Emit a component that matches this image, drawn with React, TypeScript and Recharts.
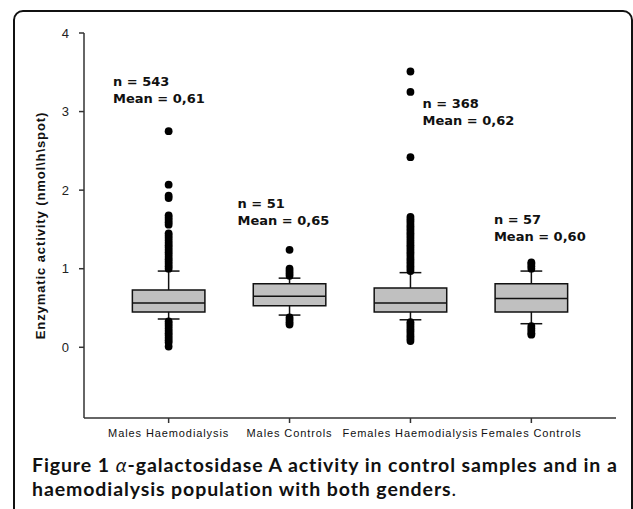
import { ComposedChart, XAxis, YAxis, Scatter, ReferenceArea, ReferenceLine, Label } from 'recharts';

const categories = ['Males Haemodialysis', 'Males Controls', 'Females Haemodialysis', 'Females Controls'];
const yTicks = [0, 1, 2, 3, 4];

// box statistics per group
const q1 = [0.45, 0.53, 0.45, 0.45];
const medians = [0.565, 0.65, 0.565, 0.62];
const q3 = [0.73, 0.81, 0.755, 0.81];
const whiskerLow = [0.36, 0.41, 0.35, 0.3];
const whiskerHigh = [0.97, 0.88, 0.95, 0.97];

const sampleSizes = [543, 51, 368, 57];
const means = ['0,61', '0,65', '0,62', '0,60'];

// outliers
const malesHdOutliers = [
  1.0, 1.03, 1.06, 1.09, 1.12, 1.15, 1.18, 1.21, 1.24, 1.27, 1.3, 1.33, 1.36, 1.39, 1.42, 1.45,
  1.56, 1.59, 1.62, 1.65, 1.68, 1.9, 1.93, 2.07, 2.75,
  0.33, 0.3, 0.27, 0.24, 0.21, 0.18, 0.15, 0.12, 0.09, 0.06, 0.01,
];
const malesCtrlOutliers = [0.91, 0.94, 0.97, 1.0, 1.24, 0.38, 0.35, 0.32, 0.29];
const femalesHdOutliers = [
  0.97, 1.0, 1.03, 1.06, 1.09, 1.12, 1.15, 1.18, 1.21, 1.24, 1.27, 1.3, 1.33, 1.36, 1.39, 1.42,
  1.45, 1.48, 1.51, 1.54, 1.57, 1.6, 1.63, 1.66, 2.42, 3.25, 3.51,
  0.32, 0.29, 0.26, 0.23, 0.2, 0.17, 0.14, 0.11, 0.08,
];
const femalesCtrlOutliers = [1.0, 1.03, 1.06, 1.08, 0.27, 0.24, 0.21, 0.18, 0.16];

const outlierGroups = [malesHdOutliers, malesCtrlOutliers, femalesHdOutliers, femalesCtrlOutliers];

// where the "n = / Mean =" notes sit (data units)
const noteX = [0.54, 1.57, 3.1, 3.69];
const noteY = [3.33, 1.77, 3.05, 1.57];

const BOX_HALF = 0.3;
const CAP_HALF = 0.09;

const outlierData = outlierGroups.flatMap((g, i) => g.map((y) => ({ x: i + 1, y })));
const noteData = categories.map((c, i) => ({ x: noteX[i], y: noteY[i], n: sampleSizes[i], mean: means[i] }));

const Dot = (props: any) => <circle cx={props.cx} cy={props.cy} r={3.9} fill="#000" />;

const Note = (props: any) => {
  const { cx, cy, payload } = props;
  return (
    <text x={cx} y={cy} fontFamily="DejaVu Sans" fontWeight="bold" fontSize={13} fill="#111">
      <tspan x={cx} y={cy}>n = {payload.n}</tspan>
      <tspan x={cx} y={cy + 17}>Mean = {payload.mean}</tspan>
    </text>
  );
};

const captionStyle: any = {
  position: 'absolute',
  left: 32,
  height: 23.4,
  fontFamily: 'Lato',
  fontSize: 19.5,
  lineHeight: '23.4px',
  letterSpacing: 0.9,
  color: '#111',
  whiteSpace: 'nowrap',
};

export default function App() {
  return (
    <div style={{ position: 'absolute', left: 0, top: 0, width: 633, height: 509, overflow: 'hidden', background: '#fff' }}>
      <div
        style={{
          position: 'absolute',
          left: 13,
          top: 10,
          width: 620,
          height: 600,
          boxSizing: 'border-box',
          border: '2px solid #111',
          borderRadius: 10,
        }}
      />
      <div style={{ position: 'absolute', left: 0, top: 0 }}>
        <ComposedChart width={633} height={450} margin={{ top: 33, right: 17, bottom: 2, left: 24 }}>
          <XAxis
            type="number"
            dataKey="x"
            domain={[0.3, 4.7]}
            ticks={[1, 2, 3, 4]}
            tickFormatter={(v) => categories[v - 1]}
            height={30}
            tickSize={5}
            tickMargin={6}
            stroke="#333"
            strokeWidth={1.5}
            tick={{ fontSize: 11, fill: '#111', fontFamily: 'Liberation Sans', letterSpacing: 0.9 }}
            allowDataOverflow
          />
          <YAxis
            type="number"
            dataKey="y"
            domain={[-0.9, 4]}
            ticks={yTicks}
            width={60}
            tickSize={5}
            tickMargin={10}
            stroke="#333"
            strokeWidth={1.5}
            tick={{ fontSize: 13, fill: '#222', fontFamily: 'Liberation Sans' }}
            allowDataOverflow
          >
            <Label
              value="Enzymatic activity (nmol\h\spot)"
              angle={-90}
              position="insideLeft"
              offset={16}
              style={{ textAnchor: 'middle', fontSize: 13, fontWeight: 'bold', fill: '#111', fontFamily: 'Liberation Sans', letterSpacing: 0.9 }}
            />
          </YAxis>

          {categories.map((c, i) => (
            <ReferenceArea
              key={'box' + i}
              x1={i + 1 - BOX_HALF}
              x2={i + 1 + BOX_HALF}
              y1={q1[i]}
              y2={q3[i]}
              fill="#c0c0c0"
              fillOpacity={1}
              stroke="#111"
              strokeWidth={1.5}
            />
          ))}
          {categories.map((c, i) => (
            <ReferenceLine
              key={'med' + i}
              segment={[{ x: i + 1 - BOX_HALF, y: medians[i] }, { x: i + 1 + BOX_HALF, y: medians[i] }]}
              stroke="#111"
              strokeWidth={1.5}
            />
          ))}
          {categories.map((c, i) => (
            <ReferenceLine
              key={'wh' + i}
              segment={[{ x: i + 1, y: q3[i] }, { x: i + 1, y: whiskerHigh[i] }]}
              stroke="#111"
              strokeWidth={1.5}
            />
          ))}
          {categories.map((c, i) => (
            <ReferenceLine
              key={'wl' + i}
              segment={[{ x: i + 1, y: q1[i] }, { x: i + 1, y: whiskerLow[i] }]}
              stroke="#111"
              strokeWidth={1.5}
            />
          ))}
          {categories.map((c, i) => (
            <ReferenceLine
              key={'ch' + i}
              segment={[{ x: i + 1 - CAP_HALF, y: whiskerHigh[i] }, { x: i + 1 + CAP_HALF, y: whiskerHigh[i] }]}
              stroke="#111"
              strokeWidth={1.5}
            />
          ))}
          {categories.map((c, i) => (
            <ReferenceLine
              key={'cl' + i}
              segment={[{ x: i + 1 - CAP_HALF, y: whiskerLow[i] }, { x: i + 1 + CAP_HALF, y: whiskerLow[i] }]}
              stroke="#111"
              strokeWidth={1.5}
            />
          ))}

          <Scatter data={outlierData} dataKey="y" shape={<Dot />} isAnimationActive={false} />
          <Scatter data={noteData} dataKey="y" shape={<Note />} isAnimationActive={false} />
        </ComposedChart>
      </div>
      <div style={{ ...captionStyle, top: 453 }}>
        <b>Figure 1</b> <span style={{ fontStyle: 'italic' }}>α</span>
        <b>-galactosidase A activity in control samples and in a</b>
      </div>
      <div style={{ ...captionStyle, top: 477 }}>
        <b>haemodialysis population with both genders</b>.
      </div>
    </div>
  );
}
